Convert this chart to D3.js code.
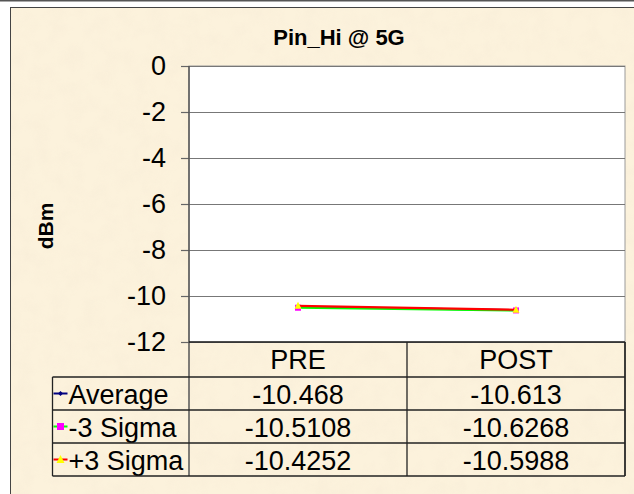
<!DOCTYPE html>
<html>
<head>
<meta charset="utf-8">
<script src="https://cdn.jsdelivr.net/npm/d3@7"></script>
<style>
  body { margin: 0; background: #fff; }
  svg { display: block; font-family: "Liberation Sans", Arial, sans-serif; }
</style>
</head>
<body>
<div class="chart"></div>
<script>
const categories = ["PRE", "POST"];
const seriesNames = ["Average", "-3 Sigma", "+3 Sigma"];
const average = [-10.468, -10.613];
const minus3Sigma = [-10.5108, -10.6268];
const plus3Sigma = [-10.4252, -10.5988];
const yTicks = [0, -2, -4, -6, -8, -10, -12];

const totalWidth = 634, totalHeight = 494;
const plot = { left: 189, right: 625, top: 66, bottom: 342 };
const fontSize = 27;

const series = [
  { name: seriesNames[0], values: average, line: "#000080", fill: "#000080", marker: "diamond" },
  { name: seriesNames[1], values: minus3Sigma, line: "#00ff00", fill: "#ff00ff", marker: "square" },
  { name: seriesNames[2], values: plus3Sigma, line: "#ff0000", fill: "#ffff00", marker: "triangle" }
];

const svg = d3.select(".chart").append("svg")
  .attr("width", totalWidth)
  .attr("height", totalHeight);

//paper texture
const defs = svg.append("defs");
const filter = defs.append("filter").attr("id", "paper")
  .attr("x", 0).attr("y", 0).attr("width", "100%").attr("height", "100%");
filter.append("feTurbulence").attr("type", "fractalNoise")
  .attr("baseFrequency", 0.06).attr("numOctaves", 3).attr("seed", 4);
filter.append("feColorMatrix").attr("type", "matrix")
  .attr("values", "0 0 0 0 0.93  0 0 0 0 0.84  0 0 0 0 0.68  1.4 0 0 0 -0.5");

//top line and chart area
svg.append("rect").attr("x", 0).attr("y", 0).attr("width", totalWidth).attr("height", 1.5).attr("fill", "#555");
svg.append("rect").attr("x", 10.5).attr("y", 7.5).attr("width", 630).attr("height", 500)
  .attr("fill", "#fcf2dc").attr("stroke", "#444").attr("stroke-width", 1);
svg.append("rect").attr("x", 11).attr("y", 8).attr("width", 623).attr("height", 486)
  .attr("filter", "url(#paper)").attr("opacity", 0.65);

//scales
const xScale = d3.scaleBand().domain(categories).range([plot.left, plot.right]);
const yScale = d3.scaleLinear().domain([-12, 0]).range([plot.bottom, plot.top]);

//plot area
svg.append("rect")
  .attr("x", plot.left).attr("y", plot.top)
  .attr("width", plot.right - plot.left).attr("height", plot.bottom - plot.top)
  .attr("fill", "#fff").attr("stroke", "#9a9a9a");

//grid lines
svg.append("g")
  .attr("transform", `translate(${plot.left},0)`)
  .call(d3.axisLeft(yScale).tickValues(yTicks).tickSize(-(plot.right - plot.left)).tickFormat(""))
  .call((g) => g.select(".domain").remove())
  .call((g) => g.selectAll("line").attr("stroke", "#777").attr("stroke-width", 1.2));

//y axis
const yAxis = svg.append("g")
  .attr("transform", `translate(${plot.left},0)`)
  .call(d3.axisLeft(yScale).tickValues(yTicks).tickSize(8).tickPadding(15));
yAxis.select(".domain").remove();
yAxis.selectAll("line").attr("stroke", "#666").attr("stroke-width", 1.2);
yAxis.selectAll("text").attr("font-size", fontSize).attr("fill", "#000")
  .attr("font-family", "Liberation Sans, Arial, sans-serif").text((d) => String(d));

//axis line through table
svg.append("line").attr("x1", plot.left).attr("x2", plot.left)
  .attr("y1", plot.top).attr("y2", 476).attr("stroke", "#555").attr("stroke-width", 1.5);

//title
svg.append("text").attr("x", 339).attr("y", 45).attr("text-anchor", "middle")
  .attr("font-size", 22).attr("font-weight", "bold").text("Pin_Hi @ 5G");

//y axis title
svg.append("text")
  .attr("transform", "translate(53,226) rotate(-90)")
  .attr("text-anchor", "middle").attr("font-size", 21).attr("font-weight", "bold").text("dBm");

//marker drawing
function drawMarker(g, type, cx, cy, fill, size) {
  if (type === "square") {
    g.append("rect").attr("x", cx - size / 2).attr("y", cy - size / 2)
      .attr("width", size).attr("height", size).attr("fill", fill);
  } else if (type === "triangle") {
    g.append("path").attr("d", `M${cx},${cy - size / 2 - 1}L${cx + size / 2 + 0.5},${cy + size / 2}L${cx - size / 2 - 0.5},${cy + size / 2}Z`).attr("fill", fill);
  } else {
    g.append("path").attr("d", `M${cx},${cy - size / 2}L${cx + size / 2},${cy}L${cx},${cy + size / 2}L${cx - size / 2},${cy}Z`).attr("fill", fill);
  }
}

//lines
const line = d3.line()
  .x((d, i) => xScale(categories[i]) + xScale.bandwidth() / 2)
  .y((d) => yScale(d));

const lineGroup = svg.append("g");
series.forEach((s) => {
  lineGroup.append("path").datum(s.values)
    .attr("d", line).attr("fill", "none")
    .attr("stroke", s.line).attr("stroke-width", 2.2);
  s.values.forEach((v, i) => {
    drawMarker(lineGroup, s.marker, xScale(categories[i]) + xScale.bandwidth() / 2, yScale(v), s.fill, 6);
  });
});

//data table
const headerBottom = 377, rowH = 33, tableLeft = 52.5, tableRight = 625;
const table = svg.append("g");
const tableStroke = "#222";

//header row
table.append("line").attr("x1", plot.left).attr("x2", tableRight).attr("y1", plot.bottom).attr("y2", plot.bottom)
  .attr("stroke", tableStroke).attr("stroke-width", 1.3);
categories.forEach((c) => {
  const x0 = xScale(c);
  table.append("line").attr("x1", x0 + xScale.bandwidth()).attr("x2", x0 + xScale.bandwidth())
    .attr("y1", plot.bottom).attr("y2", headerBottom + rowH * 3).attr("stroke", tableStroke).attr("stroke-width", 1.3);
  table.append("text").attr("x", x0 + xScale.bandwidth() / 2).attr("y", headerBottom - 8)
    .attr("text-anchor", "middle").attr("font-size", fontSize).text(c);
});

//rows
series.forEach((s, r) => {
  const y0 = headerBottom + r * rowH;
  table.append("line").attr("x1", tableLeft).attr("x2", tableRight).attr("y1", y0).attr("y2", y0)
    .attr("stroke", tableStroke).attr("stroke-width", 1.3);
  //legend key
  const ky = y0 + rowH / 2;
  table.append("line").attr("x1", tableLeft + 1).attr("x2", tableLeft + 15).attr("y1", ky).attr("y2", ky)
    .attr("stroke", s.line).attr("stroke-width", 2);
  drawMarker(table, s.marker, tableLeft + 8, ky, s.fill, s.marker === "diamond" ? 5 : 7);
  table.append("text").attr("x", tableLeft + 16).attr("y", y0 + rowH - 6.5)
    .attr("font-size", fontSize).text(s.name);
  categories.forEach((c, i) => {
    table.append("text").attr("x", xScale(c) + xScale.bandwidth() / 2).attr("y", y0 + rowH - 6.5)
      .attr("text-anchor", "middle").attr("font-size", fontSize).text(String(s.values[i]));
  });
});
table.append("line").attr("x1", tableLeft).attr("x2", tableRight)
  .attr("y1", headerBottom + rowH * 3).attr("y2", headerBottom + rowH * 3)
  .attr("stroke", tableStroke).attr("stroke-width", 1.5);
table.append("line").attr("x1", tableLeft).attr("x2", tableLeft)
  .attr("y1", headerBottom).attr("y2", headerBottom + rowH * 3).attr("stroke", tableStroke).attr("stroke-width", 1.3);
table.append("line").attr("x1", tableRight).attr("x2", tableRight)
  .attr("y1", plot.bottom).attr("y2", headerBottom + rowH * 3).attr("stroke", tableStroke).attr("stroke-width", 1.3);
</script>
</body>
</html>
